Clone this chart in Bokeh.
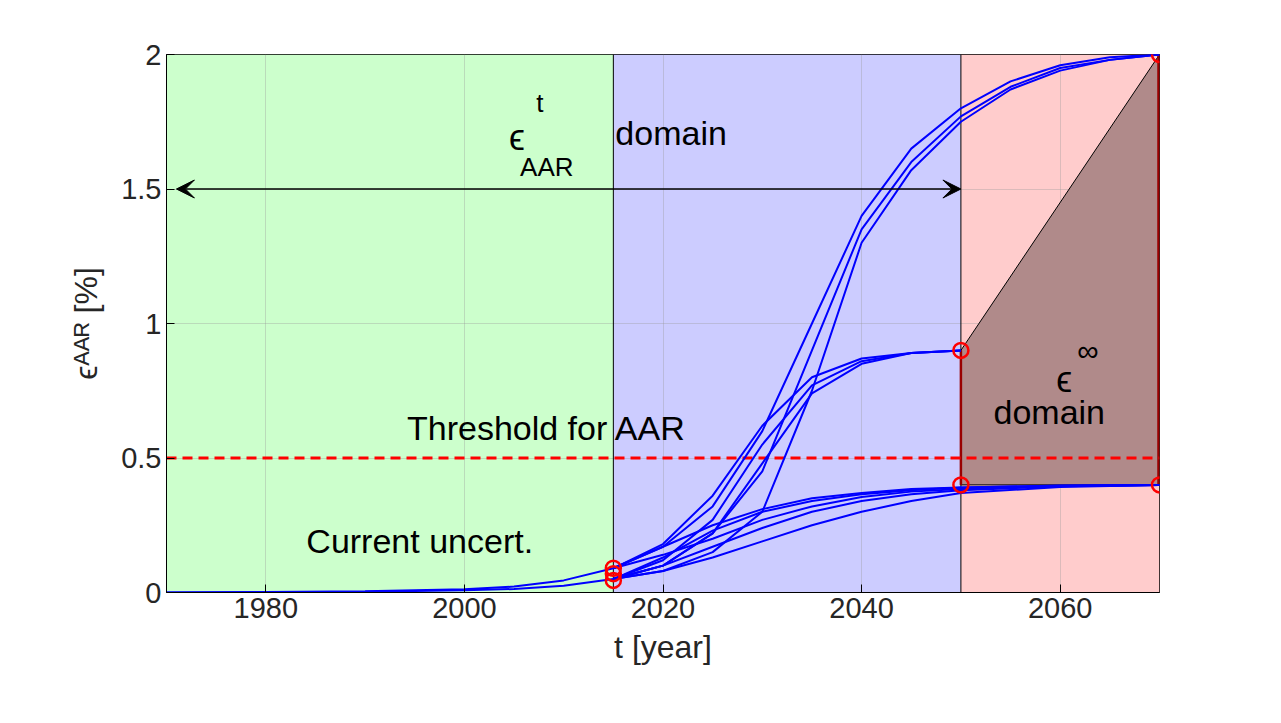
from bokeh.embed import file_html
from bokeh.resources import INLINE
from bokeh.plotting import figure
from bokeh.models import Range1d, FixedTicker, Arrow, VeeHead, Label

# regions
zone_x = [1970, 2015, 2050]
zone_w = [45, 35, 20]
zone_colors = ["#ccffcc", "#ccccff", "#ffcccc"]
# ε∞ domain polygon
dom_x = [2050, 2050, 2070, 2070]
dom_y = [0.4, 0.9, 2.0, 0.4]

yrs_hist = [1970, 1980, 1990, 2000, 2005, 2010, 2015]
hist_hi = [0, 0.002, 0.005, 0.012, 0.022, 0.045, 0.09]
hist_lo = [0, 0.001, 0.003, 0.008, 0.013, 0.025, 0.05]

yrs_a = [2015, 2020, 2025, 2030, 2035, 2040, 2045, 2050, 2055, 2060, 2065, 2070]
curves_a = [
    [0.09, 0.17, 0.32, 0.6, 1.0, 1.4, 1.65, 1.8, 1.9, 1.96, 1.99, 2.0],
    [0.05, 0.1, 0.22, 0.45, 0.9, 1.35, 1.6, 1.77, 1.88, 1.95, 1.98, 2.0],
    [0.05, 0.08, 0.15, 0.3, 0.75, 1.3, 1.57, 1.75, 1.87, 1.94, 1.98, 2.0],
]
yrs_b = [2015, 2020, 2025, 2030, 2035, 2040, 2045, 2050]
curves_b = [
    [0.09, 0.18, 0.36, 0.62, 0.8, 0.87, 0.89, 0.9],
    [0.05, 0.12, 0.27, 0.55, 0.77, 0.86, 0.89, 0.9],
    [0.05, 0.1, 0.22, 0.48, 0.74, 0.85, 0.89, 0.9],
]
yrs_c = [2015, 2020, 2025, 2030, 2035, 2040, 2045, 2050, 2060, 2070]
curves_c = [
    [0.09, 0.17, 0.25, 0.31, 0.35, 0.37, 0.385, 0.39, 0.398, 0.4],
    [0.09, 0.14, 0.2, 0.27, 0.32, 0.355, 0.375, 0.385, 0.396, 0.4],
    [0.05, 0.13, 0.23, 0.3, 0.34, 0.365, 0.38, 0.39, 0.397, 0.4],
    [0.05, 0.1, 0.17, 0.24, 0.3, 0.34, 0.365, 0.38, 0.395, 0.4],
    [0.05, 0.08, 0.13, 0.19, 0.25, 0.3, 0.34, 0.37, 0.392, 0.4],
]
circ_x = [2015, 2015, 2015, 2050, 2050, 2070, 2070]
circ_y = [0.09, 0.07, 0.045, 0.9, 0.4, 2.0, 0.4]
threshold = 0.5

p = figure(width=1273, height=715, output_backend="svg", toolbar_location=None,
           x_range=Range1d(1970, 2070), y_range=Range1d(0, 2),
           min_border_left=166, min_border_right=114, min_border_top=54, min_border_bottom=123)
p.background_fill_color = "white"
p.outline_line_color = "black"
p.outline_line_width = 1

p.quad(left=zone_x, right=[a + b for a, b in zip(zone_x, zone_w)], bottom=0, top=2,
       fill_color=zone_colors, line_color=None, level="underlay")
p.patch(dom_x, dom_y, fill_color="#b08a8a", line_color="black", line_width=1)
p.grid.grid_line_color = "#999999"
p.grid.grid_line_alpha = 0.35

p.line([2015, 2015], [0, 2], color="black", line_width=1)
p.line([2050, 2050], [0, 2], color="black", line_width=1)
p.line([2050, 2050], [0.4, 0.9], color="#990000", line_width=2.5)
p.line([2069.9, 2069.9], [0.4, 2.0], color="#990000", line_width=2.5)
p.line([1970, 2070], [threshold, threshold], color="red", line_width=3, line_dash="10 6")

for h in [hist_hi, hist_lo]:
    p.line(yrs_hist, h, color="blue", line_width=2)
for ys in curves_a:
    p.line(yrs_a, ys, color="blue", line_width=2)
for ys in curves_b:
    p.line(yrs_b, ys, color="blue", line_width=2)
for ys in curves_c:
    p.line(yrs_c, ys, color="blue", line_width=2)

p.scatter(circ_x, circ_y, size=15, fill_color=None, line_color="red", line_width=2.5)

p.add_layout(Arrow(start=VeeHead(size=18, fill_color="black", line_color="black"),
                   end=VeeHead(size=18, fill_color="black", line_color="black"),
                   x_start=1971, y_start=1.5, x_end=2050, y_end=1.5, line_width=1.5))

def lab(x, y, t, size, align="center"):
    p.add_layout(Label(x=x, y=y, text=t, text_font="Liberation Sans", text_font_size=size,
                       text_align=align, text_baseline="middle", text_color="black"))

lab(2005.3, 1.69, "ϵ", "36px")
lab(2007.6, 1.82, "t", "26px")
lab(2008.3, 1.58, "AAR", "26px")
lab(2015.2, 1.71, "domain", "34px", align="left")
lab(2008.3, 0.61, "Threshold for AAR", "34px")
lab(1995.5, 0.19, "Current uncert.", "34px")
lab(2060.4, 0.79, "ϵ", "36px")
lab(2062.8, 0.9, "∞", "30px")
lab(2058.9, 0.67, "domain", "34px")

p.xaxis.ticker = FixedTicker(ticks=[1980, 2000, 2020, 2040, 2060])
p.yaxis.ticker = FixedTicker(ticks=[0, 0.5, 1, 1.5, 2])
p.yaxis.major_label_overrides = {0: "0", 0.5: "0.5", 1: "1", 1.5: "1.5", 2: "2"}
p.xaxis.axis_label = "t [year]"
p.yaxis.axis_label = "ϵᴬᴬᴿ [%]"
for ax in [p.xaxis, p.yaxis]:
    ax.major_label_text_font_size = "29px"
    ax.major_label_text_font = "Liberation Sans"
    ax.major_label_text_color = "#262626"
    ax.axis_line_color = "black"
    ax.major_tick_in = 8
    ax.major_tick_out = 0
    ax.minor_tick_line_color = None
    ax.axis_label_text_font_size = "32px"
    ax.axis_label_text_font = "Liberation Sans"
    ax.axis_label_text_font_style = "normal"
    ax.axis_label_text_color = "#262626"
p.xaxis.axis_label_standoff = 8
p.yaxis.axis_label_standoff = 14

open("out.html", "w").write(file_html(p, INLINE))
